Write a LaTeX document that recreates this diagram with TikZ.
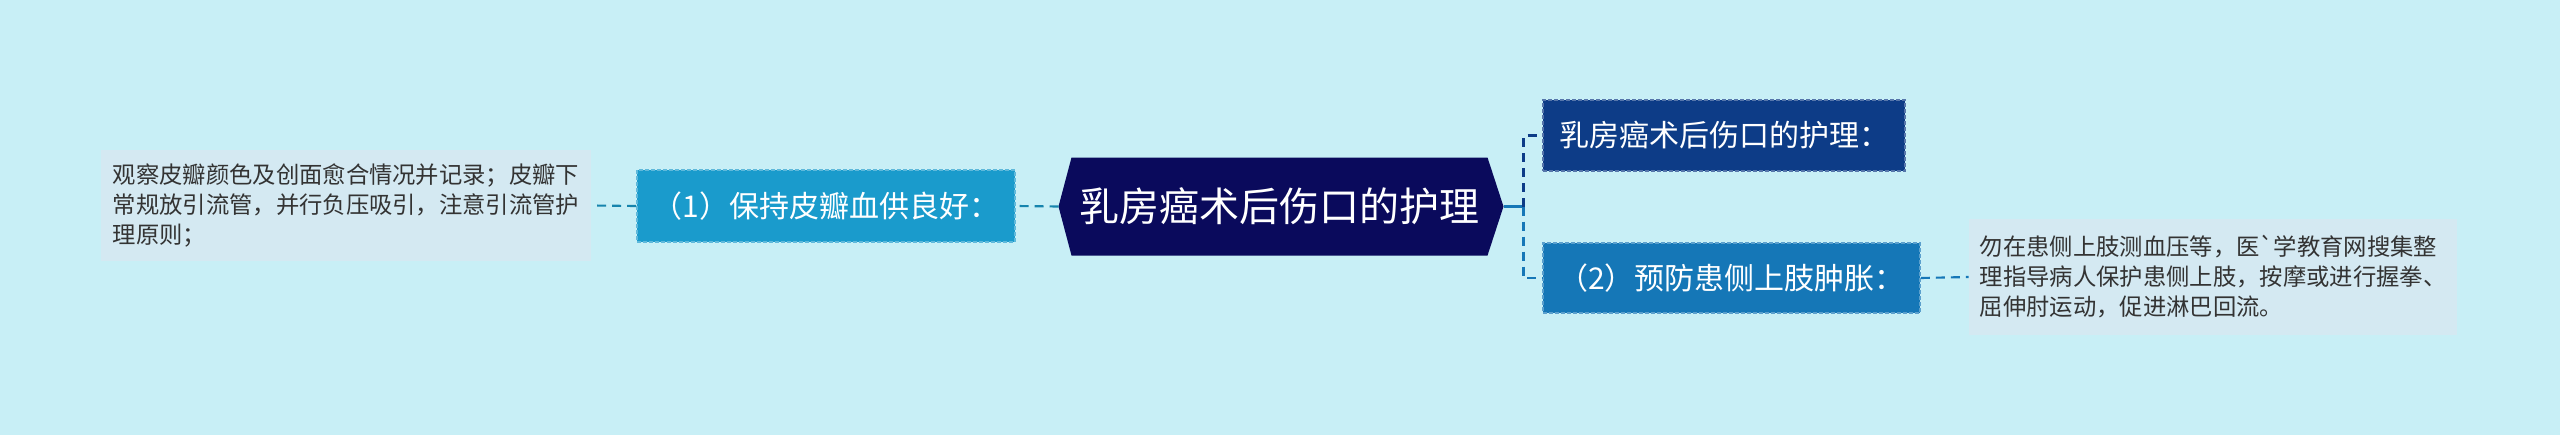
\documentclass[tikz,border=0pt]{standalone}
\usepackage{fontspec}
\newfontfamily\cjk{Noto Sans CJK SC}
\usetikzlibrary{calc,backgrounds}

\definecolor{pagebg}{HTML}{C8EFF6}
\definecolor{navy}{HTML}{0A0A5C}
\definecolor{darkblue}{HTML}{0D3C87}
\definecolor{midblue}{HTML}{1577B7}
\definecolor{skyblue}{HTML}{1A9BCC}
\definecolor{leafbg}{HTML}{D4E9F2}
\definecolor{leaftext}{HTML}{333333}

\tikzset{every picture/.style={line width=0.75pt}}
\tikzset{
  rootbox/.style={inner sep=0pt, minimum width=311.25pt, minimum height=72.75pt, text=white, font=\cjk\fontsize{30}{36}\selectfont},
  subbox/.style={draw, dash pattern=on 3pt off 1.5pt, line width=1.2pt, inner sep=0pt, text=white, font=\cjk\fontsize{22.5}{27}\selectfont},
  leafbox/.style={fill=leafbg, inner sep=0pt, align=left, text=leaftext, font=\cjk\fontsize{17.5}{22.5}\selectfont},
  link/.style={dash pattern=on 6.75pt off 4.5pt, line width=1.6pt},
}

\begin{document}
\begin{tikzpicture}[x=0.75pt,y=0.75pt,yscale=-1,xscale=1]
\useasboundingbox (0,0) rectangle (2560,435);

%Root
\node[rootbox] (root) at (1279.5,206.5) {乳房癌术后伤口的护理};
\coordinate (rootL) at ($(root.west)+(-13,0)$);
\coordinate (rootR) at ($(root.east)+(16,0)$);
\begin{scope}[on background layer]
\fill[pagebg] (0,0) rectangle (2560,435);
\fill[navy] (root.north west) -- (root.north east) -- (rootR) -- (root.south east) -- (root.south west) -- (rootL) -- cycle;
\end{scope}

%Left branch
\node[subbox, fill=skyblue, draw=skyblue!70!white, minimum width=283.5pt, minimum height=54pt] (keep) at (826,206) {（1）保持皮瓣血供良好：};
\node[leafbox, minimum width=367.5pt, minimum height=83.25pt] (keepleaf) at (346,205.5) {观察皮瓣颜色及创面愈合情况并记录；皮瓣下\\常规放引流管，并行负压吸引，注意引流管护\\理原则；};

%Right branch
\node[subbox, fill=darkblue, draw=darkblue!70!white, minimum width=271.5pt, minimum height=53.25pt] (care) at (1724,135.5) {乳房癌术后伤口的护理：};
\node[subbox, fill=midblue, draw=midblue!70!white, minimum width=282.75pt, minimum height=52.5pt] (swell) at (1731.5,278) {（2）预防患侧上肢肿胀：};
\node[leafbox, minimum width=366pt, minimum height=87pt] (swellleaf) at (2213,277) {勿在患侧上肢测血压等，医`学教育网搜集整\\理指导病人保护患侧上肢，按摩或进行握拳、\\屈伸肘运动，促进淋巴回流。};

%Connectors
\coordinate (fork) at ($(rootR)+(20,0)$);
\draw[link, skyblue!85!black] (rootL) -- (keep.east);
\draw[link, skyblue!85!black] (keep.west) -- (keepleaf.east);
\draw[line width=1.6pt, midblue] (rootR) -- (fork);
\draw[link, darkblue] (fork) |- (care.west);
\draw[link, midblue] (fork) |- (swell.west);
\draw[link, midblue] (swell.east) -- (swellleaf.west);

\end{tikzpicture}
\end{document}
